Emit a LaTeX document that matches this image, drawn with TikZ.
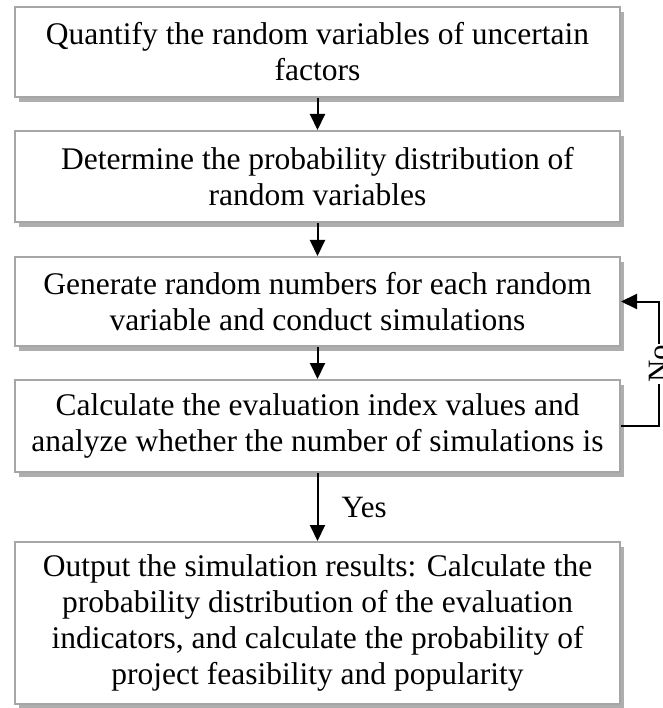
\documentclass[tikz,border=0pt]{standalone}
\usepackage{fontspec}
\setmainfont{Liberation Serif}
\usetikzlibrary{shadows,arrows.meta}
\begin{document}
\begin{tikzpicture}[x=1pt,y=-1pt,
  box/.style={draw=black!35, line width=2pt, fill=white, minimum width=605pt,
    align=center, font=\fontsize{31.5}{36}\selectfont, inner sep=0pt,
    drop shadow={shadow xshift=4pt, shadow yshift=-5pt, fill=black!45, opacity=0.7}},
  arr/.style={-{Triangle[length=16pt,width=15pt]}, line width=2pt},
  lbl/.style={font=\fontsize{31}{36}\selectfont, inner sep=1pt}]
\useasboundingbox (0,0) rectangle (662,708);
\node[box, minimum height=90pt] (b1) at (317.5,52) {Quantify the random variables of uncertain\\factors};
\node[box, minimum height=91pt] (b2) at (317.5,176.5) {Determine the probability distribution of\\random variables};
\node[box, minimum height=89pt] (b3) at (317.5,301.5) {Generate random numbers for each random\\variable and conduct simulations};
\node[box, minimum height=92pt] (b4) at (317.5,426) {Calculate the evaluation index values and\\analyze whether the number of simulations is};
\node[box, minimum height=162pt] (b5) at (317.5,623) {Output the simulation results: Calculate the\\probability distribution of the evaluation\\indicators, and calculate the probability of\\project feasibility and popularity};
\coordinate (c1) at (659,426);
\draw[arr] (b1.south) -- (b2.north);
\draw[arr] (b2.south) -- (b3.north);
\draw[arr] (b3.south) -- (b4.north);
\draw[arr] (b4.south) -- node[lbl, anchor=west, xshift=22pt] {Yes} (b5.north);
\draw[arr] (b4.east) -- (b4.east -| c1) -- node[lbl, rotate=90, fill=white] {No} (b3.east -| c1) -- (b3.east);
\end{tikzpicture}
\end{document}
